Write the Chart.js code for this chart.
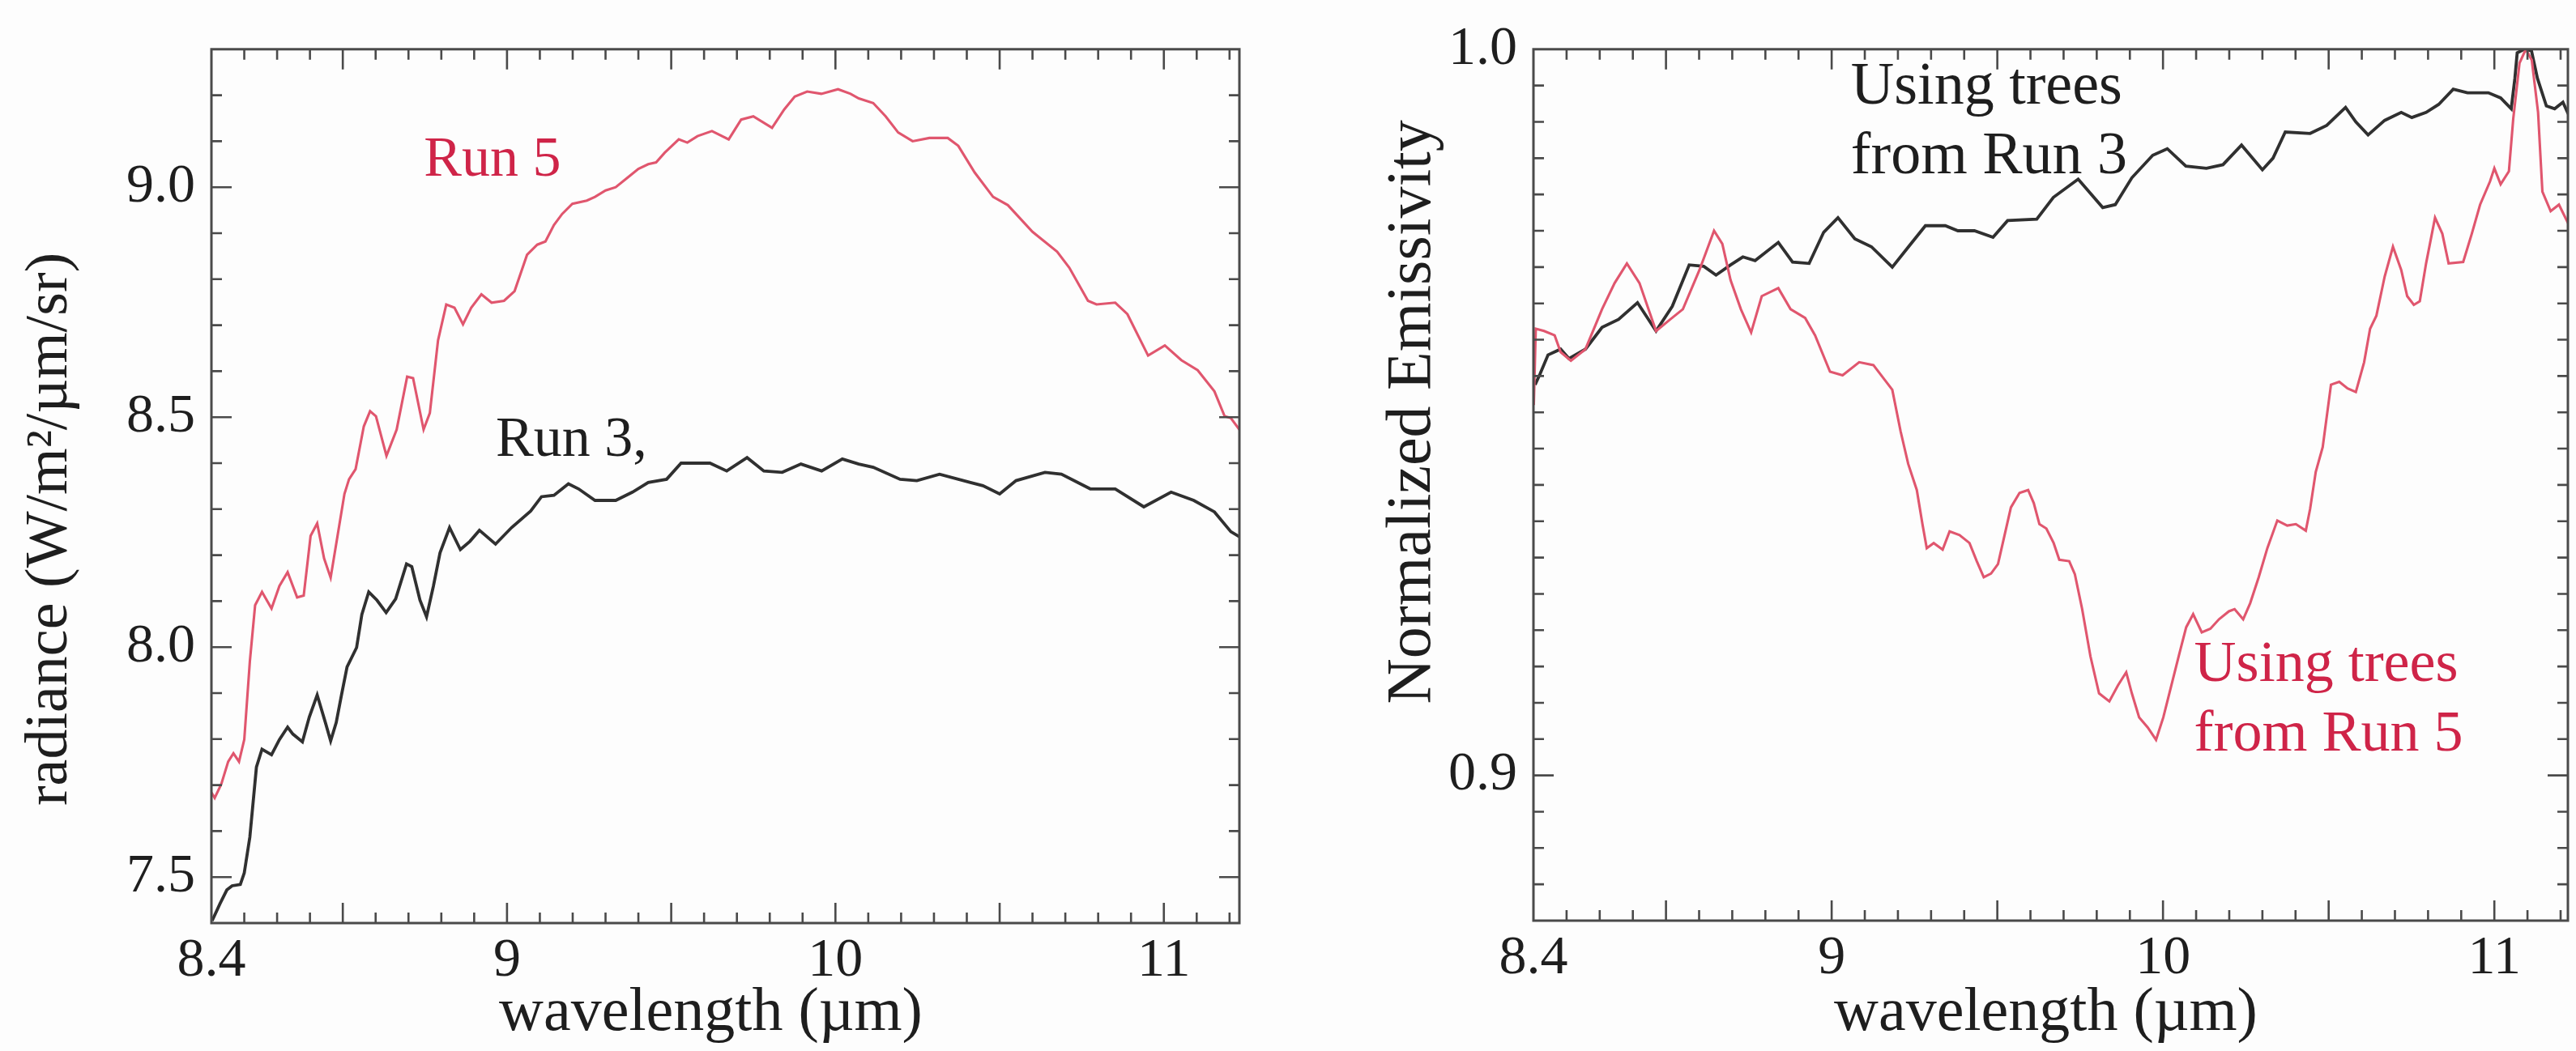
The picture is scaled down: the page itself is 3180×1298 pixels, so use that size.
<!DOCTYPE html>
<html><head><meta charset="utf-8">
<script src="https://cdn.jsdelivr.net/npm/chart.js@4.4.1/dist/chart.umd.min.js"></script>
<style>
html,body{margin:0;padding:0;background:#fdfdfd;}
#wrap{position:relative;width:3180px;height:1298px;overflow:hidden;background:#fdfdfd;}
.panel{position:absolute;top:0;}
</style></head><body>
<div id="wrap">
<div class="panel" style="left:0;width:1600px;height:1298px"><canvas id="c1" width="1600" height="1298"></canvas></div>
<div class="panel" style="left:1600px;width:1580px;height:1298px"><canvas id="c2" width="1580" height="1298"></canvas></div>
</div>
<script>
// ---------- data: left panel (radiance) ----------
const run5X = [8.100,8.110,8.130,8.151,8.167,8.184,8.200,8.217,8.233,8.254,8.283,8.307,8.332,8.361,8.381,8.402,8.422,8.443,8.463,8.484,8.505,8.519,8.539,8.564,8.583,8.601,8.633,8.664,8.696,8.714,8.746,8.765,8.790,8.815,8.840,8.866,8.891,8.922,8.953,8.991,9.023,9.061,9.092,9.117,9.143,9.168,9.199,9.243,9.268,9.300,9.331,9.369,9.400,9.430,9.454,9.480,9.523,9.549,9.580,9.624,9.675,9.713,9.750,9.807,9.844,9.876,9.914,9.957,10.008,10.046,10.071,10.115,10.153,10.191,10.235,10.286,10.342,10.374,10.424,10.480,10.525,10.600,10.675,10.712,10.769,10.795,10.852,10.889,10.952,11.003,11.053,11.103,11.154,11.185,11.204,11.230];
const run5Y = [7.684,7.672,7.702,7.751,7.769,7.751,7.799,7.969,8.091,8.120,8.084,8.133,8.163,8.108,8.112,8.242,8.269,8.193,8.151,8.242,8.333,8.365,8.387,8.480,8.513,8.502,8.416,8.473,8.588,8.585,8.473,8.509,8.667,8.745,8.738,8.702,8.738,8.767,8.749,8.753,8.774,8.853,8.875,8.882,8.918,8.942,8.964,8.971,8.979,8.993,9.000,9.022,9.040,9.050,9.054,9.075,9.104,9.097,9.111,9.122,9.104,9.147,9.154,9.129,9.169,9.197,9.208,9.203,9.213,9.203,9.193,9.183,9.154,9.119,9.100,9.107,9.107,9.090,9.032,8.979,8.961,8.903,8.860,8.825,8.753,8.745,8.749,8.724,8.634,8.656,8.624,8.602,8.556,8.502,8.498,8.473];
const run3X = [8.102,8.126,8.147,8.163,8.188,8.200,8.217,8.237,8.254,8.283,8.307,8.332,8.348,8.377,8.398,8.422,8.447,8.463,8.480,8.496,8.513,8.542,8.558,8.579,8.604,8.632,8.661,8.694,8.710,8.735,8.755,8.776,8.796,8.825,8.858,8.887,8.916,8.965,9.014,9.072,9.105,9.143,9.187,9.218,9.268,9.331,9.382,9.430,9.486,9.530,9.618,9.669,9.731,9.782,9.838,9.895,9.958,10.021,10.071,10.115,10.197,10.248,10.317,10.411,10.449,10.500,10.550,10.638,10.688,10.776,10.852,10.939,11.022,11.091,11.154,11.204,11.230];
const run3Y = [7.405,7.442,7.472,7.481,7.484,7.509,7.587,7.739,7.778,7.766,7.799,7.826,7.811,7.794,7.848,7.896,7.836,7.796,7.836,7.896,7.957,7.999,8.071,8.120,8.102,8.075,8.105,8.181,8.175,8.102,8.066,8.133,8.205,8.260,8.212,8.230,8.254,8.224,8.260,8.296,8.327,8.330,8.355,8.344,8.319,8.319,8.337,8.358,8.365,8.400,8.400,8.383,8.412,8.383,8.380,8.398,8.383,8.409,8.398,8.391,8.365,8.362,8.376,8.358,8.351,8.333,8.362,8.380,8.376,8.344,8.344,8.305,8.337,8.319,8.294,8.251,8.240];

// ---------- data: right panel (normalized emissivity) ----------
const trees3X = [8.105,8.120,8.144,8.182,8.207,8.257,8.307,8.357,8.414,8.470,8.519,8.570,8.614,8.651,8.695,8.732,8.769,8.839,8.882,8.932,8.976,9.019,9.070,9.120,9.183,9.232,9.283,9.343,9.381,9.431,9.487,9.531,9.619,9.669,9.744,9.818,9.856,9.906,9.969,10.013,10.069,10.131,10.181,10.237,10.300,10.332,10.369,10.444,10.494,10.551,10.582,10.619,10.669,10.719,10.751,10.794,10.832,10.876,10.919,10.982,11.019,11.051,11.062,11.069,11.090,11.112,11.130,11.157,11.182,11.207,11.223];
const trees3Y = [0.9538,0.9553,0.9579,0.9587,0.9574,0.9587,0.9617,0.9628,0.9651,0.9612,0.9646,0.9703,0.9701,0.9689,0.9703,0.9714,0.9709,0.9734,0.9707,0.9705,0.9748,0.9768,0.9739,0.9728,0.9700,0.9728,0.9757,0.9757,0.9750,0.9750,0.9741,0.9764,0.9766,0.9796,0.9821,0.9782,0.9786,0.9823,0.9854,0.9863,0.9839,0.9836,0.9841,0.9868,0.9834,0.9850,0.9886,0.9884,0.9895,0.9920,0.9900,0.9882,0.9902,0.9913,0.9906,0.9913,0.9924,0.9945,0.9940,0.9940,0.9933,0.9918,0.9960,0.9995,1.0000,0.9998,0.9960,0.9922,0.9918,0.9927,0.9911];
const trees5X = [8.101,8.107,8.132,8.164,8.182,8.213,8.257,8.307,8.345,8.382,8.420,8.470,8.513,8.551,8.601,8.645,8.670,8.695,8.726,8.757,8.789,8.839,8.876,8.920,8.950,8.995,9.033,9.083,9.126,9.183,9.208,9.231,9.257,9.274,9.287,9.308,9.335,9.356,9.386,9.416,9.438,9.459,9.481,9.502,9.524,9.541,9.567,9.593,9.610,9.627,9.648,9.670,9.687,9.717,9.734,9.756,9.781,9.807,9.838,9.864,9.889,9.906,9.928,9.954,9.979,10.001,10.023,10.049,10.070,10.091,10.117,10.143,10.169,10.199,10.216,10.242,10.263,10.289,10.315,10.345,10.375,10.401,10.431,10.444,10.461,10.482,10.507,10.532,10.557,10.582,10.607,10.625,10.644,10.669,10.694,10.719,10.737,10.757,10.775,10.794,10.821,10.843,10.862,10.906,10.932,10.957,10.987,11.000,11.019,11.044,11.057,11.076,11.095,11.113,11.132,11.145,11.170,11.195,11.223];
const trees5Y = [0.9510,0.9615,0.9612,0.9606,0.9583,0.9571,0.9587,0.9642,0.9678,0.9705,0.9678,0.9612,0.9628,0.9642,0.9696,0.9750,0.9732,0.9682,0.9642,0.9610,0.9660,0.9671,0.9642,0.9630,0.9606,0.9556,0.9551,0.9569,0.9565,0.9531,0.9474,0.9429,0.9393,0.9346,0.9313,0.9320,0.9311,0.9336,0.9331,0.9320,0.9295,0.9273,0.9278,0.9291,0.9335,0.9369,0.9389,0.9393,0.9375,0.9346,0.9340,0.9320,0.9297,0.9295,0.9277,0.9229,0.9164,0.9113,0.9102,0.9124,0.9142,0.9113,0.9080,0.9066,0.9049,0.9080,0.9120,0.9167,0.9204,0.9222,0.9197,0.9202,0.9215,0.9226,0.9229,0.9215,0.9237,0.9273,0.9313,0.9351,0.9344,0.9346,0.9337,0.9367,0.9418,0.9452,0.9538,0.9542,0.9533,0.9528,0.9569,0.9615,0.9633,0.9687,0.9728,0.9696,0.9660,0.9648,0.9653,0.9705,0.9768,0.9746,0.9705,0.9707,0.9746,0.9786,0.9818,0.9836,0.9814,0.9832,0.9904,0.9981,1.0000,0.9985,0.9913,0.9804,0.9777,0.9786,0.9760];

// ---------- ticks ----------
const xMinorTicks = [8.2,8.3,8.4,8.5,8.6,8.7,8.8,8.9,9.0,9.1,9.2,9.3,9.4,9.5,9.6,9.7,9.8,9.9,10.0,10.1,10.2,10.3,10.4,10.5,10.6,10.7,10.8,10.9,11.0,11.1,11.2];
const xMajorTicks = [8.5,9.0,9.5,10.0,10.5,11.0];
const xLabelValues = [8.1,9,10,11];
const xLabelText = ['8.4','9','10','11'];
const radMinorTicks = [7.5,7.6,7.7,7.8,7.9,8.0,8.1,8.2,8.3,8.4,8.5,8.6,8.7,8.8,8.9,9.0,9.1,9.2];
const radMajorTicks = [7.5,8.0,8.5,9.0];
const radLabelText = ['7.5','8.0','8.5','9.0'];
const emiMinorTicks = [0.885,0.89,0.895,0.9,0.905,0.91,0.915,0.92,0.925,0.93,0.935,0.94,0.945,0.95,0.955,0.96,0.965,0.97,0.975,0.98,0.985,0.99,0.995];
const emiMajorTicks = [0.9,1.0];
const emiLabelText = ['0.9','1.0'];

// ---------- styles ----------
const RED_LINE = '#e0566e';
const RED_TEXT = '#cf2448';
const BLACK_LINE = '#303030';
const INK = '#1e1e1e';
const FRAME = '#4a4a4a';
const SERIF = '"Liberation Serif", "DejaVu Serif", serif';

function pts(xs, ys){ return xs.map((x,i)=>({x:x, y:ys[i]})); }
function isIn(list, v){ return list.some(m=>Math.abs(m-v)<1e-6); }

function decor(cfg){
  return {
    id:'decor',
    afterDatasetsDraw(chart){
      const ctx = chart.ctx, a = chart.chartArea, xs = chart.scales.x, ys = chart.scales.y;
      ctx.save();
      ctx.strokeStyle = FRAME;
      ctx.lineWidth = 3;
      ctx.strokeRect(a.left, a.top, a.right-a.left, a.bottom-a.top);
      ctx.lineWidth = 2.6;
      ctx.beginPath();
      cfg.xMinor.forEach(v=>{
        const p = xs.getPixelForValue(v);
        const L = isIn(cfg.xMajor, v) ? cfg.majLen : cfg.minLen;
        ctx.moveTo(p, a.bottom); ctx.lineTo(p, a.bottom-L);
        ctx.moveTo(p, a.top); ctx.lineTo(p, a.top+L);
      });
      cfg.yMinor.forEach(v=>{
        const p = ys.getPixelForValue(v);
        const L = isIn(cfg.yMajor, v) ? cfg.majLen : cfg.minLen;
        ctx.moveTo(a.left, p); ctx.lineTo(a.left+L, p);
        ctx.moveTo(a.right, p); ctx.lineTo(a.right-L, p);
      });
      ctx.stroke();
      ctx.textAlign = 'left';
      ctx.textBaseline = 'alphabetic';
      cfg.notes.forEach(n=>{
        ctx.font = n.size + 'px ' + SERIF;
        ctx.fillStyle = n.color;
        ctx.fillText(n.text, xs.getPixelForValue(n.x), ys.getPixelForValue(n.y));
      });
      // axis titles
      ctx.fillStyle = INK;
      ctx.font = cfg.xTitle.size + 'px ' + SERIF;
      ctx.textAlign = 'center';
      ctx.fillText(cfg.xTitle.text, (a.left+a.right)/2 + cfg.xTitle.dx, cfg.xTitle.baseline);
      ctx.save();
      ctx.font = cfg.yTitle.size + 'px ' + SERIF;
      ctx.translate(cfg.yTitle.baseline, (a.top+a.bottom)/2 + cfg.yTitle.dy);
      ctx.rotate(-Math.PI/2);
      ctx.fillText(cfg.yTitle.text, 0, 0);
      ctx.restore();
      ctx.restore();
    }
  };
}

function makeChart(canvasId, opts){
  return new Chart(document.getElementById(canvasId), {
    type:'line',
    data:{datasets: opts.datasets},
    options:{
      responsive:false, animation:false, devicePixelRatio:1,
      layout:{padding:opts.padding},
      plugins:{legend:{display:false}, tooltip:{enabled:false}},
      elements:{point:{radius:0}, line:{tension:0}},
      scales:{
        x:{type:'linear', min:opts.xMin, max:opts.xMax,
           grid:{display:false, drawTicks:false, tickLength:0}, border:{display:false},
           afterBuildTicks:(s)=>{ s.ticks = xLabelValues.map(v=>({value:v})); },
           afterFit:(s)=>{ s.height = opts.xAxisHeight; },
           ticks:{autoSkip:false, maxRotation:0, padding:opts.xTickPad, color:INK,
                  font:{family:SERIF, size:68},
                  callback:(v,i)=>xLabelText[i]}},
        y:{type:'linear', min:opts.yMin, max:opts.yMax,
           grid:{display:false, drawTicks:false, tickLength:0}, border:{display:false},
           afterBuildTicks:(s)=>{ s.ticks = opts.yLabelValues.map(v=>({value:v})); },
           afterFit:(s)=>{ s.width = opts.yAxisWidth; },
           ticks:{autoSkip:false, padding:opts.yTickPad, color:INK,
                  font:{family:SERIF, size:68},
                  callback:(v,i)=>opts.yLabelText[i]}}
      }
    },
    plugins:[decor(opts.decor)]
  });
}

makeChart('c1', {
  datasets:[
    {label:'Run 5', data:pts(run5X, run5Y), borderColor:RED_LINE, borderWidth:3.1},
    {label:'Run 3', data:pts(run3X, run3Y), borderColor:BLACK_LINE, borderWidth:3.8}
  ],
  padding:{left:0, top:40, right:70, bottom:0},
  xMin:8.1, xMax:11.23, yMin:7.4, yMax:9.3,
  xAxisHeight:158, yAxisWidth:261, xTickPad:6, yTickPad:20,
  yLabelValues:radMajorTicks, yLabelText:radLabelText,
  decor:{xMinor:xMinorTicks, xMajor:xMajorTicks, yMinor:radMinorTicks, yMajor:radMajorTicks,
         majLen:25, minLen:13,
         notes:[{text:'Run 5', x:8.747, y:9.025, size:70, color:RED_TEXT},
                {text:'Run 3,', x:8.966, y:8.416, size:70, color:INK}],
         xTitle:{text:'wavelength (\u00b5m)', size:76, dx:-18, baseline:1272},
         yTitle:{text:'radiance (W/m\u00b2/\u00b5m/sr)', size:74, baseline:82, dy:53}}
});

makeChart('c2', {
  datasets:[
    {label:'Using trees from Run 5', data:pts(trees5X, trees5Y), borderColor:RED_LINE, borderWidth:3.1},
    {label:'Using trees from Run 3', data:pts(trees3X, trees3Y), borderColor:BLACK_LINE, borderWidth:3.8}
  ],
  padding:{left:0, top:36, right:10, bottom:0},
  xMin:8.1, xMax:11.222, yMin:0.88, yMax:1.0,
  xAxisHeight:161, yAxisWidth:293, xTickPad:6, yTickPad:20,
  yLabelValues:emiMajorTicks, yLabelText:emiLabelText,
  decor:{xMinor:xMinorTicks, xMajor:xMajorTicks, yMinor:emiMinorTicks, yMajor:emiMajorTicks,
         majLen:25, minLen:13,
         notes:[{text:'Using trees', x:9.058, y:0.99253, size:74, color:INK},
                {text:'from Run 3', x:9.058, y:0.98294, size:74, color:INK},
                {text:'Using trees', x:10.094, y:0.91304, size:72, color:RED_TEXT},
                {text:'from Run 5', x:10.094, y:0.90344, size:72, color:RED_TEXT}],
         xTitle:{text:'wavelength (\u00b5m)', size:76, dx:-6, baseline:1272},
         yTitle:{text:'Normalized Emissivity', size:78, baseline:1765-1600, dy:-90}}
});
</script>
</body></html>
